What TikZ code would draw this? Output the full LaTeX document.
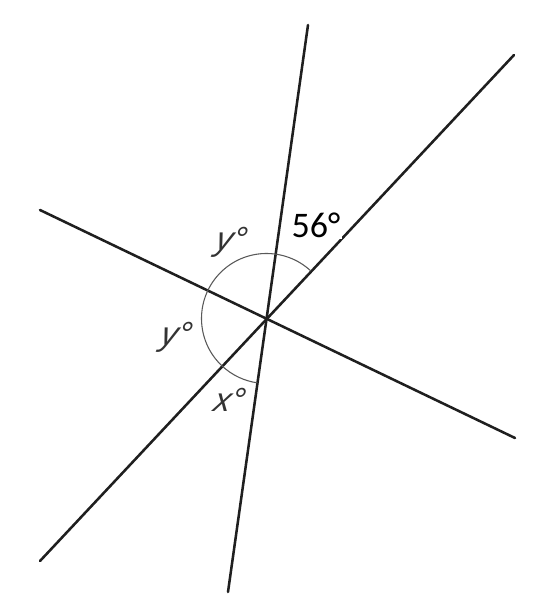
\documentclass[tikz,border=0pt]{standalone}
\usepackage{fontspec}
\setmainfont{Carlito}
\newfontfamily\lblfont{Liberation Sans}
\begin{document}
\begin{tikzpicture}[x=0.75pt,y=0.75pt,
  mainline/.style={line width=1.9pt,color=black!88,line cap=round},
  anglearc/.style={line width=0.8pt,color=black!65},
  varlabel/.style={font=\lblfont\itshape\fontsize{25}{25}\selectfont,text=black!80,inner sep=0pt,xslant=0.22},
  numlabel/.style={font=\fontsize{27}{27}\selectfont,fill=white,inner sep=1.5pt,text=black}]
\useasboundingbox (0,0) rectangle (537,597);
\fill[white] (0,0) rectangle (537,597);
\coordinate (O) at (266.5,278.5);
\coordinate (a1) at (308,572);
\coordinate (a2) at (228,5);
\coordinate (b1) at (40,36);
\coordinate (b2) at (514,542);
\coordinate (c1) at (40,387);
\coordinate (c2) at (515,159);
\draw[mainline] (a1) -- (a2);
\draw[mainline] (b1) -- (b2);
\draw[mainline] (c1) -- (c2);
\draw[anglearc] ([shift={(47:65)}]O) arc[start angle=47,end angle=262,radius=65];
\node[numlabel] (n56) at (316,372) {56°};
\node[varlabel] (ytop) at (231,355) {y°};
\node[varlabel] (yleft) at (176,260) {y°};
\node[varlabel] (xbot) at (230,197) {x°};
\end{tikzpicture}
\end{document}
